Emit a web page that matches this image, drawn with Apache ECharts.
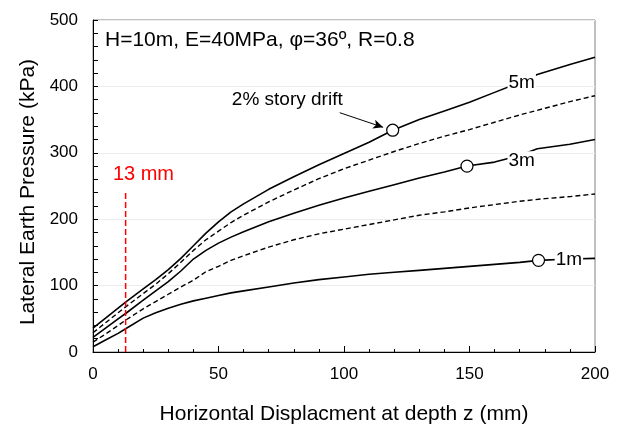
<!DOCTYPE html>
<html>
<head>
<meta charset="utf-8">
<script src="https://cdn.jsdelivr.net/npm/echarts@6/dist/echarts.min.js"></script>
<style>html,body{margin:0;padding:0;background:#fff}#c{width:619px;height:430px}</style>
</head>
<body>
<div id="c"></div>
<script>
// ---- data ----
const x5m   = [0,5,10,13,20,25,30,35,40,45,50,55,60,70,80,90,100,110,119.4,130,140,150,160,170,177,190,200];
const y5m   = [36,51,66,75,95,109,124,141,160,179,196,211,223,245,264,282,299,316,334,350,363,376,391,406,418,433,444];
const x4m   = [0,5,10,13,20,25,30,35,40,45,50,55,60,70,80,90,100,110,120,130,140,150,160,170,180,190,200];
const y4m   = [29,44,59,68,88,102,118,135,153,169,182,195,206,226,244,261,276,289,302,314,325,335,346,357,367,377,386];
const x3m   = [0,5,10,13,20,25,30,35,40,45,50,55,60,70,80,90,100,110,120,130,140,149,160,170,177,190,200];
const y3m   = [22,36,50,58,78,92,106,122,140,153,164,173,181,196,209,221,232,242,252,262,271,280,286,296,306,313,320];
const x2m   = [0,5,10,13,20,25,30,35,40,45,50,55,60,70,80,90,100,110,120,130,140,150,160,170,180,190,200];
const y2m   = [15,27,40,48,65,76,87,98,108,121,129,138,145,158,169,178,185,192,199,206,211,217,222,227,231,234,238];
const x1m   = [0,5,10,13,20,25,30,35,40,45,50,55,60,70,80,90,100,110,120,130,140,150,160,170,177.5,190,200];
const y1m   = [8,18,28,35,51,59,66,72,77,81,85,89,92,98,104,109,113,117,120,123,126,129,132,135,138,140,141];
const driftX = [119.4, 149, 177.5];
const driftY = [334, 280, 138];
const depthLabels = ['5m', '3m', '1m'];
const depthLabelX = [170.8, 170.8, 189.6];
const depthLabelY = [405, 288, 139.6];
const redLineX = [13, 13];
const redLineY = [0, 240];
const redText = '13 mm';
const redTextPos = [20.1, 266.6];
const driftText = '2% story drift';
const driftTextPos = [77.4, 379.5];
const arrowFrom = [98.3, 360.4];
const arrowTo = [115.6, 338.4];
const xTicks = [0, 50, 100, 150, 200];
const yTicks = [0, 100, 200, 300, 400, 500];
const infoText = 'H=10m, E=40MPa, φ=36º, R=0.8';
const xTitle = 'Horizontal Displacment at depth z (mm)';
const yTitle = 'Lateral Earth Pressure (kPa)';

const FONT = "'Liberation Sans', Arial, sans-serif";
const zip = (xs, ys) => xs.map((x, i) => [x, ys[i]]);

const solid = {type: 'solid', width: 1.6, color: '#000'};
const dashed = {type: [5, 3], width: 1.4, color: '#000'};
function lineSeries(name, xs, ys, ls) {
  return {name, type: 'line', data: zip(xs, ys), showSymbol: false, symbol: 'none',
    lineStyle: ls, z: 2, animation: false, silent: true};
}

const chart = echarts.init(document.getElementById('c'), null, {renderer: 'canvas'});
chart.setOption({
  animation: false,
  backgroundColor: '#fff',
  textStyle: {fontFamily: FONT},
  title: {text: infoText, left: 105, top: 30, padding: 0,
    textStyle: {fontFamily: FONT, fontSize: 21, fontWeight: 'normal', color: '#000'}},
  grid: {left: 93, right: 24, top: 20, bottom: 78, show: true, borderColor: '#808080', borderWidth: 1},
  xAxis: {
    type: 'value', min: xTicks[0], max: xTicks[xTicks.length - 1], interval: xTicks[1] - xTicks[0],
    name: xTitle, nameLocation: 'middle', nameGap: 52,
    nameTextStyle: {fontFamily: FONT, fontSize: 21, color: '#000'},
    axisLine: {show: true, onZero: false, lineStyle: {color: '#000', width: 1}},
    axisTick: {show: true, inside: true, length: 6, lineStyle: {color: '#000'}},
    minorTick: {show: true, splitNumber: 5, length: 3, lineStyle: {color: '#000'}},
    axisLabel: {fontFamily: FONT, fontSize: 17, color: '#000', margin: 14},
    splitLine: {show: false}
  },
  yAxis: {
    type: 'value', min: yTicks[0], max: yTicks[yTicks.length - 1], interval: yTicks[1] - yTicks[0],
    name: yTitle, nameLocation: 'middle', nameGap: 53,
    nameTextStyle: {fontFamily: FONT, fontSize: 21, color: '#000', padding: [0, 12, 0, 0]},
    axisLine: {show: true, onZero: false, lineStyle: {color: '#000', width: 1}},
    axisTick: {show: true, inside: true, length: 5, lineStyle: {color: '#000'}},
    minorTick: {show: true, splitNumber: 5, length: 5, lineStyle: {color: '#000'}},
    axisLabel: {fontFamily: FONT, fontSize: 17, color: '#000', margin: 15},
    splitLine: {show: true, lineStyle: {color: '#ececec', width: 1}}
  },
  series: [
    lineSeries('5m', x5m, y5m, solid),
    lineSeries('4m', x4m, y4m, dashed),
    lineSeries('3m', x3m, y3m, solid),
    lineSeries('2m', x2m, y2m, dashed),
    lineSeries('1m', x1m, y1m, solid),
    {
      name: 'red', type: 'line', data: zip(redLineX, redLineY), symbol: 'none', z: 3,
      lineStyle: {color: '#ff0000', width: 1.5, type: [6, 3]},
      markLine: {
        silent: true, symbol: ['none', 'arrow'], symbolSize: [7, 10],
        lineStyle: {color: '#000', width: 1, type: 'solid'},
        label: {show: false},
        data: [[{coord: arrowFrom}, {coord: arrowTo}]]
      }
    },
    {
      name: 'drift', type: 'scatter', data: zip(driftX, driftY), symbol: 'circle', symbolSize: 12, z: 4,
      itemStyle: {color: '#fff', borderColor: '#000', borderWidth: 1.2, opacity: 1}
    },
    {
      name: 'depthLabels', type: 'scatter', symbolSize: 0, z: 5, itemStyle: {opacity: 1},
      data: depthLabels.map((t, i) => ({value: [depthLabelX[i], depthLabelY[i]], name: t})),
      label: {show: true, position: 'inside', formatter: p => p.name, fontFamily: FONT, fontSize: 19,
        color: '#000', backgroundColor: '#fff', padding: [0, 1, 0, 1]}
    },
    {
      name: 'texts', type: 'scatter', symbolSize: 0, z: 5, itemStyle: {opacity: 1},
      data: [
        {value: redTextPos, name: redText, label: {color: '#ff0000', fontSize: 20}},
        {value: driftTextPos, name: driftText, label: {color: '#000', fontSize: 19}}
      ],
      label: {show: true, position: 'inside', formatter: p => p.name, fontFamily: FONT}
    }
  ]
});
</script>
</body>
</html>
